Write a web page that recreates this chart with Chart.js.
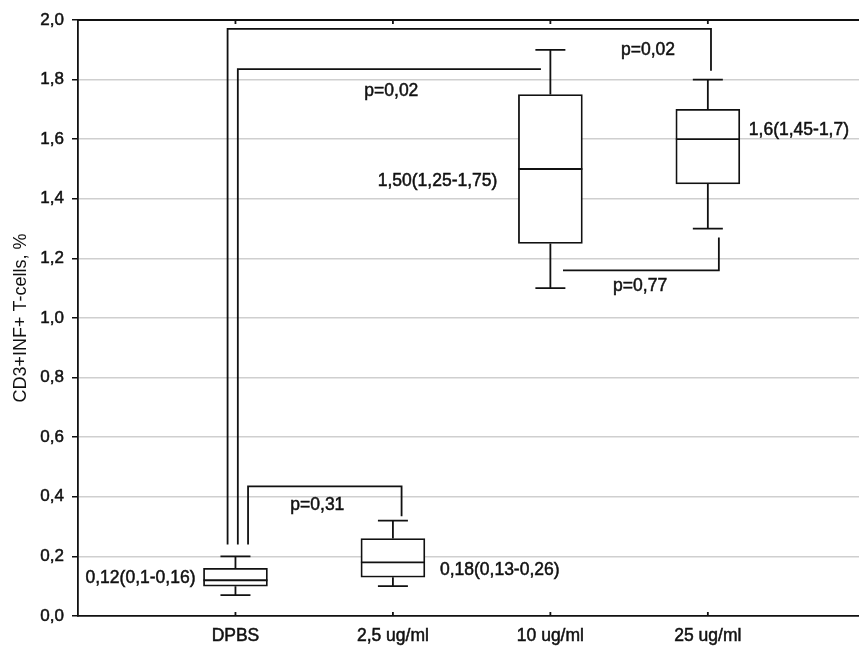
<!DOCTYPE html>
<html>
<head>
<meta charset="utf-8">
<script src="https://cdn.jsdelivr.net/npm/chart.js@4/dist/chart.umd.min.js"></script>
<style>
  html, body { margin: 0; padding: 0; background: #fff; }
  #wrap { width: 859px; height: 651px; }
</style>
</head>
<body>
<div id="wrap"><canvas id="boxes"></canvas></div>
<script>
// Datos
const categorias = ["DPBS", "2,5 ug/ml", "10 ug/ml", "25 ug/ml"];
const posiciones = [1, 2, 3, 4];
const minimos = [0.07, 0.10, 1.10, 1.30];
const q1 = [0.10, 0.13, 1.25, 1.45];
const medianas = [0.12, 0.18, 1.50, 1.60];
const q3 = [0.16, 0.26, 1.75, 1.70];
const maximos = [0.20, 0.32, 1.90, 1.80];
const resumen = ["0,12(0,1-0,16)", "0,18(0,13-0,26)", "1,50(1,25-1,75)", "1,6(1,45-1,7)"];
const yTicks = [0, 0.2, 0.4, 0.6, 0.8, 1.0, 1.2, 1.4, 1.6, 1.8, 2.0];

// Comparaciones (p) entre grupos, en unidades de los ejes
const pTextos = ["p=0,02", "p=0,02", "p=0,31", "p=0,77"];
const pCaminos = [
    [[0.95, 0.24], [0.95, 1.97], [4.02, 1.97], [4.02, 1.83]],
    [[1.015, 0.24], [1.015, 1.835], [2.94, 1.835]],
    [[1.08, 0.24], [1.08, 0.435], [2.055, 0.435], [2.055, 0.335]],
    [[3.08, 1.16], [4.07, 1.16], [4.07, 1.27]]
];
const pPosiciones = [[3.62, 1.90], [1.99, 1.76], [1.52, 0.372], [3.57, 1.106]];

const fuente = "'Liberation Sans', Arial, sans-serif";
const negro = "#111111";

// Bigotes, medianas, corchetes y textos
const dibujoExtra = {
    id: "dibujoExtra",
    afterDatasetsDraw(chart) {
        const ctx = chart.ctx;
        const xs = chart.scales.x;
        const ys = chart.scales.y;
        const area = chart.chartArea;
        ctx.save();
        ctx.strokeStyle = negro;
        ctx.lineWidth = 1.8;
        // borde superior y marcas interiores
        ctx.beginPath();
        ctx.moveTo(area.left, area.top);
        ctx.lineTo(area.right, area.top);
        posiciones.forEach((p) => {
            const x = xs.getPixelForValue(p);
            ctx.moveTo(x, area.top);
            ctx.lineTo(x, area.top + 4);
            ctx.moveTo(x, area.bottom);
            ctx.lineTo(x, area.bottom - 4);
        });
        ctx.stroke();

        posiciones.forEach((p, i) => {
            const x = xs.getPixelForValue(p);
            const medio = 32;
            const tapa = 15;
            ctx.beginPath();
            ctx.moveTo(x, ys.getPixelForValue(q3[i]));
            ctx.lineTo(x, ys.getPixelForValue(maximos[i]));
            ctx.moveTo(x - tapa, ys.getPixelForValue(maximos[i]));
            ctx.lineTo(x + tapa, ys.getPixelForValue(maximos[i]));
            ctx.moveTo(x, ys.getPixelForValue(q1[i]));
            ctx.lineTo(x, ys.getPixelForValue(minimos[i]));
            ctx.moveTo(x - tapa, ys.getPixelForValue(minimos[i]));
            ctx.lineTo(x + tapa, ys.getPixelForValue(minimos[i]));
            ctx.moveTo(x - medio, ys.getPixelForValue(medianas[i]));
            ctx.lineTo(x + medio, ys.getPixelForValue(medianas[i]));
            ctx.stroke();
        });

        pCaminos.forEach((camino) => {
            ctx.beginPath();
            camino.forEach((pt, k) => {
                const px = xs.getPixelForValue(pt[0]);
                const py = ys.getPixelForValue(pt[1]);
                if (k === 0) ctx.moveTo(px, py); else ctx.lineTo(px, py);
            });
            ctx.stroke();
        });

        ctx.fillStyle = negro;
        ctx.lineWidth = 0.5;
        ctx.font = "17.5px " + fuente;
        ctx.textBaseline = "middle";
        ctx.textAlign = "center";
        pTextos.forEach((t, i) => {
            const tx = xs.getPixelForValue(pPosiciones[i][0]);
            const ty = ys.getPixelForValue(pPosiciones[i][1]);
            ctx.fillText(t, tx, ty);
            ctx.strokeText(t, tx, ty);
        });

        // resumen mediana (IQR) junto a cada caja
        const lados = ["left", "right", "left", "right"];
        const desplaz = [-40, 47, -53, 41];
        const alturas = [0.127, 0.155, 1.46, 1.63];
        resumen.forEach((t, i) => {
            ctx.textAlign = lados[i] === "left" ? "right" : "left";
            const x = xs.getPixelForValue(posiciones[i]) + desplaz[i];
            const y = ys.getPixelForValue(alturas[i]);
            ctx.fillText(t, x, y);
            ctx.strokeText(t, x, y);
        });
        ctx.restore();
    }
};

new Chart(document.getElementById("boxes").getContext("2d"), {
    type: "bar",
    data: {
        datasets: [
            {
                label: "IQR",
                data: posiciones.map((p, i) => ({ x: p, y: [q1[i], q3[i]] })),
                backgroundColor: "#ffffff",
                borderColor: negro,
                borderWidth: 1.8,
                borderSkipped: false,
                barThickness: 64
            }
        ]
    },
    options: {
        responsive: true,
        maintainAspectRatio: false,
        animation: false,
        layout: {
            padding: { top: 20, left: 0, right: 0, bottom: 0 }
        },
        plugins: {
            legend: { display: false },
            tooltip: { enabled: false },
            title: { display: false }
        },
        scales: {
            x: {
                type: "linear",
                offset: false,
                min: 0,
                max: 4.96,
                afterBuildTicks: (scale) => {
                    scale.ticks = posiciones.map((p) => ({ value: p }));
                },
                afterFit: (scale) => {
                    scale.height = 35;
                },
                ticks: {
                    callback: (v) => categorias[posiciones.indexOf(v)] || "",
                    color: negro,
                    textStrokeColor: negro,
                    textStrokeWidth: 0.5,
                    font: { family: fuente, size: 17.5 },
                    maxRotation: 0,
                    padding: 10
                },
                grid: { display: false, drawTicks: false, offset: false },
                border: { color: negro, width: 1.8 }
            },
            y: {
                min: 0,
                max: 2,
                afterBuildTicks: (scale) => {
                    scale.ticks = yTicks.map((v) => ({ value: v }));
                },
                afterFit: (scale) => {
                    scale.width = 78;
                },
                ticks: {
                    callback: (v) => v.toFixed(1).replace(".", ","),
                    color: negro,
                    textStrokeColor: negro,
                    textStrokeWidth: 0.5,
                    font: { family: fuente, size: 17 },
                    padding: 8
                },
                grid: {
                    color: (c) => (c.tick && (c.tick.value === 0 || c.tick.value === 2) ? "rgba(0,0,0,0)" : "#cfcfcf"),
                    lineWidth: 1.5,
                    tickColor: negro,
                    tickLength: 6
                },
                border: { color: negro, width: 1.8 },
                title: {
                    display: true,
                    text: "CD3+INF+ T-cells, %",
                    color: negro,
                    font: { family: fuente, size: 18 },
                    padding: { top: 10, bottom: 0 }
                }
            }
        }
    },
    plugins: [dibujoExtra]
});
</script>
</body>
</html>
